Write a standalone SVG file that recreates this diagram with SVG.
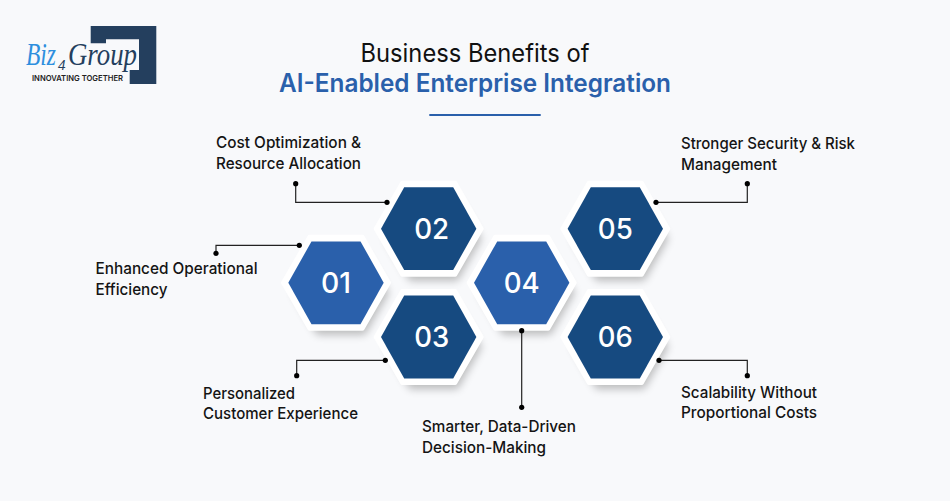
<svg xmlns="http://www.w3.org/2000/svg" width="950" height="501" viewBox="0 0 950 501">
<defs>
<filter id="sh" x="-30%" y="-30%" width="160%" height="170%"><feGaussianBlur stdDeviation="4"/></filter>
<polygon id="hx" points="-47.700,0 -24.500,-41.400 24.500,-41.400 47.700,0 24.500,41.400 -24.500,41.400"/>
<polygon id="hxo" points="-53,0 -26.500,-46 26.500,-46 53,0 26.500,46 -26.500,46" stroke="#fff" stroke-width="4" stroke-linejoin="round"/>
<polygon id="hxs" points="-46,0 -22,-40 26,-40 50,0 26,42 -22,42"/>
</defs>
<style>
text{font-family:"Inter","Noto Sans",sans-serif}
.lb{font-size:16px;font-weight:500;fill:#141414}
.num{font-size:29px;font-weight:500;fill:#fff;text-anchor:middle}
.c{fill:none;stroke:#222;stroke-width:1.2}
.d{fill:#000}
.sh{fill:#000;opacity:.25;filter:url(#sh)}
.o{fill:#fff}
.l{fill:#2a60ab}
.k{fill:#164a80}
.lg{font-family:"Liberation Serif",serif;font-style:italic;font-size:32px}
</style>
<rect width="950" height="501" fill="#f8f9fb"/>
<g id="logo">
<path d="M90.700 26H156.300V84H129.700V70H139V39.300H106V43.300H90.700Z" fill="#243f5e"/>
<text class="lg" x="26" y="65" fill="#2e8fde" textLength="30" lengthAdjust="spacingAndGlyphs">Biz</text>
<text class="lg" x="68" y="65" fill="#243f5e" textLength="69" lengthAdjust="spacingAndGlyphs">Group</text>
<text class="lg" x="58" y="70" style="font-size:15px" fill="#243f5e">4</text>
<text x="32" y="81" font-size="8" font-weight="600" fill="#222" textLength="91" lengthAdjust="spacingAndGlyphs">INNOVATING TOGETHER</text>
</g>
<g id="title">
<text x="475" y="62" font-size="25" text-anchor="middle" fill="#111" textLength="229" lengthAdjust="spacingAndGlyphs">Business Benefits of</text>
<text x="475" y="92" font-size="25" font-weight="600" text-anchor="middle" fill="#2a60ab" textLength="392" lengthAdjust="spacingAndGlyphs">AI-Enabled Enterprise Integration</text>
<rect x="429.300" y="114" width="111.400" height="2" fill="#2a60ab"/>
</g>
<g id="node-01" transform="translate(336,282.800)"><use href="#hxs" class="sh" x="3" y="10"/><use href="#hxo" class="o"/><use href="#hx" class="l"/><text class="num" y="10" textLength="30" lengthAdjust="spacingAndGlyphs">01</text></g>
<g id="node-02" transform="translate(428.700,228.700)"><use href="#hxs" class="sh" x="3" y="10"/><use href="#hxo" class="o"/><use href="#hx" class="k"/><text class="num" x="3" y="10" textLength="35" lengthAdjust="spacingAndGlyphs">02</text></g>
<g id="node-03" transform="translate(428.700,337)"><use href="#hxs" class="sh" x="3" y="10"/><use href="#hxo" class="o"/><use href="#hx" class="k"/><text class="num" x="3" y="10" textLength="35" lengthAdjust="spacingAndGlyphs">03</text></g>
<g id="node-04" transform="translate(521.700,282.800)"><use href="#hxs" class="sh" x="3" y="10"/><use href="#hxo" class="o"/><use href="#hx" class="l"/><text class="num" y="10" textLength="36" lengthAdjust="spacingAndGlyphs">04</text></g>
<g id="node-05" transform="translate(615.300,228.700)"><use href="#hxs" class="sh" x="3" y="10"/><use href="#hxo" class="o"/><use href="#hx" class="k"/><text class="num" y="10" textLength="35" lengthAdjust="spacingAndGlyphs">05</text></g>
<g id="node-06" transform="translate(615.300,337)"><use href="#hxs" class="sh" x="3" y="10"/><use href="#hxo" class="o"/><use href="#hx" class="k"/><text class="num" y="10" textLength="35" lengthAdjust="spacingAndGlyphs">06</text></g>
<g id="connectors">
<path class="c" d="M295.700 183.700V202.300H387"/><circle class="d" cx="295.700" cy="183.700" r="2.600"/><circle class="d" cx="387" cy="202.300" r="2.600"/>
<path class="c" d="M299.300 245.300H216V253.300"/><circle class="d" cx="299.300" cy="245.300" r="2.600"/><circle class="d" cx="216" cy="253.300" r="2.600"/>
<path class="c" d="M385.300 360.300H296.700V375.700"/><circle class="d" cx="385.300" cy="360.300" r="2.600"/><circle class="d" cx="296.700" cy="375.700" r="2.600"/>
<path class="c" d="M521.700 330.700V407.300"/><circle class="d" cx="521.700" cy="330.700" r="2.600"/><circle class="d" cx="521.700" cy="407.300" r="2.600"/>
<path class="c" d="M656 202.300H747.300V183.700"/><circle class="d" cx="656" cy="202.300" r="2.600"/><circle class="d" cx="747.300" cy="183.700" r="2.600"/>
<path class="c" d="M659 360.300H747.300V375.700"/><circle class="d" cx="659" cy="360.300" r="2.600"/><circle class="d" cx="747.300" cy="375.700" r="2.600"/>
</g>
<g id="labels">
<text class="lb" x="216" y="148" textLength="145" lengthAdjust="spacingAndGlyphs">Cost Optimization &amp;</text>
<text class="lb" x="216" y="169" textLength="145" lengthAdjust="spacingAndGlyphs">Resource Allocation</text>
<text class="lb" x="95.500" y="274" textLength="162" lengthAdjust="spacingAndGlyphs">Enhanced Operational</text>
<text class="lb" x="95.500" y="295" textLength="72" lengthAdjust="spacingAndGlyphs">Efficiency</text>
<text class="lb" x="203" y="399" textLength="92" lengthAdjust="spacingAndGlyphs">Personalized</text>
<text class="lb" x="203" y="419" textLength="155" lengthAdjust="spacingAndGlyphs">Customer Experience</text>
<text class="lb" x="422" y="432" textLength="154" lengthAdjust="spacingAndGlyphs">Smarter, Data-Driven</text>
<text class="lb" x="422" y="453" textLength="124" lengthAdjust="spacingAndGlyphs">Decision-Making</text>
<text class="lb" x="681" y="149" textLength="174" lengthAdjust="spacingAndGlyphs">Stronger Security &amp; Risk</text>
<text class="lb" x="681" y="170" textLength="96" lengthAdjust="spacingAndGlyphs">Management</text>
<text class="lb" x="681" y="398" textLength="136" lengthAdjust="spacingAndGlyphs">Scalability Without</text>
<text class="lb" x="681" y="418" textLength="136" lengthAdjust="spacingAndGlyphs">Proportional Costs</text>
</g>
</svg>
